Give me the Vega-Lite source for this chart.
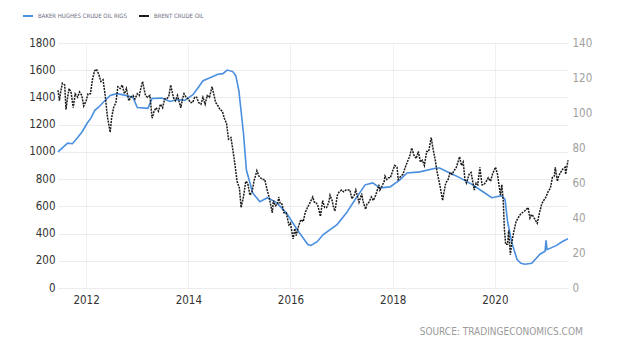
{
  "$schema": "https://vega.github.io/schema/vega-lite/v6.json",
  "width": 510,
  "height": 245,
  "autosize": {"type": "none"},
  "padding": {"left": 58, "top": 43, "right": 52, "bottom": 63},
  "background": "white",
  "title": {
    "text": "SOURCE: TRADINGECONOMICS.COM",
    "orient": "bottom",
    "anchor": "end",
    "dx": -9,
    "offset": 21,
    "font": "DejaVu Sans Condensed",
    "fontSize": 10,
    "fontWeight": "normal",
    "color": "#9a9a9a"
  },
  "config": {
    "view": {"stroke": null},
    "axis": {
      "labelFont": "DejaVu Sans Condensed",
      "labelFontSize": 11.5,
      "domain": false,
      "ticks": false,
      "gridColor": "#ececec",
      "gridWidth": 1,
      "title": null
    },
    "legend": {
      "orient": "none",
      "legendX": -36,
      "legendY": -33,
      "direction": "horizontal",
      "title": null,
      "symbolType": "stroke",
      "symbolSize": 100,
      "symbolStrokeWidth": 2,
      "labelFont": "DejaVu Sans Condensed",
      "labelFontSize": 6,
      "labelColor": "#6b6b80",
      "columnPadding": 8,
      "symbolOffset": 0
    }
  },
  "datasets": {
    "rigs": [
      {"date": "2011-06-14", "value": 1000},
      {"date": "2011-07-15", "value": 1030},
      {"date": "2011-08-22", "value": 1064},
      {"date": "2011-09-25", "value": 1060},
      {"date": "2011-11-03", "value": 1108},
      {"date": "2011-12-05", "value": 1150},
      {"date": "2012-01-08", "value": 1210},
      {"date": "2012-02-05", "value": 1250},
      {"date": "2012-03-03", "value": 1305},
      {"date": "2012-04-01", "value": 1330},
      {"date": "2012-05-01", "value": 1363},
      {"date": "2012-06-21", "value": 1414},
      {"date": "2012-08-08", "value": 1428},
      {"date": "2012-10-10", "value": 1415},
      {"date": "2012-12-01", "value": 1400},
      {"date": "2013-01-01", "value": 1326},
      {"date": "2013-03-18", "value": 1320},
      {"date": "2013-04-16", "value": 1392},
      {"date": "2013-06-25", "value": 1395},
      {"date": "2013-08-22", "value": 1370},
      {"date": "2013-10-15", "value": 1385},
      {"date": "2013-12-06", "value": 1378},
      {"date": "2014-02-03", "value": 1420},
      {"date": "2014-03-10", "value": 1470},
      {"date": "2014-04-16", "value": 1523},
      {"date": "2014-06-05", "value": 1545},
      {"date": "2014-07-31", "value": 1570},
      {"date": "2014-09-05", "value": 1575},
      {"date": "2014-10-05", "value": 1601},
      {"date": "2014-11-14", "value": 1590},
      {"date": "2014-12-06", "value": 1560},
      {"date": "2014-12-28", "value": 1450},
      {"date": "2015-01-30", "value": 1137},
      {"date": "2015-02-20", "value": 867},
      {"date": "2015-04-05", "value": 700},
      {"date": "2015-05-27", "value": 634},
      {"date": "2015-07-20", "value": 663},
      {"date": "2015-09-24", "value": 627},
      {"date": "2015-12-01", "value": 554},
      {"date": "2016-02-17", "value": 430},
      {"date": "2016-05-04", "value": 320},
      {"date": "2016-05-27", "value": 313},
      {"date": "2016-07-10", "value": 340},
      {"date": "2016-08-22", "value": 393},
      {"date": "2016-11-29", "value": 466},
      {"date": "2017-02-06", "value": 554},
      {"date": "2017-04-06", "value": 648},
      {"date": "2017-06-18", "value": 758},
      {"date": "2017-08-11", "value": 772},
      {"date": "2017-10-01", "value": 736},
      {"date": "2017-12-13", "value": 743},
      {"date": "2018-02-21", "value": 794},
      {"date": "2018-04-13", "value": 845},
      {"date": "2018-07-13", "value": 853},
      {"date": "2018-11-10", "value": 882},
      {"date": "2018-12-02", "value": 882},
      {"date": "2019-02-14", "value": 845},
      {"date": "2019-04-28", "value": 809},
      {"date": "2019-07-27", "value": 758},
      {"date": "2019-10-08", "value": 707},
      {"date": "2019-12-10", "value": 663},
      {"date": "2020-02-20", "value": 678},
      {"date": "2020-03-14", "value": 649},
      {"date": "2020-04-02", "value": 481},
      {"date": "2020-05-01", "value": 335},
      {"date": "2020-06-07", "value": 211},
      {"date": "2020-07-05", "value": 182},
      {"date": "2020-08-04", "value": 175},
      {"date": "2020-09-21", "value": 182},
      {"date": "2020-11-18", "value": 248},
      {"date": "2020-12-25", "value": 270},
      {"date": "2021-01-01", "value": 350},
      {"date": "2021-01-08", "value": 282},
      {"date": "2021-03-18", "value": 313},
      {"date": "2021-04-25", "value": 340},
      {"date": "2021-06-07", "value": 362}
    ],
    "brent": [
      {"date": "2011-06-14", "value": 113}, {"date": "2011-06-24", "value": 107}, {"date": "2011-07-01", "value": 111}, {"date": "2011-07-15", "value": 117},
      {"date": "2011-08-01", "value": 116}, {"date": "2011-08-10", "value": 102}, {"date": "2011-08-20", "value": 108}, {"date": "2011-09-01", "value": 114},
      {"date": "2011-09-15", "value": 112}, {"date": "2011-10-01", "value": 103}, {"date": "2011-10-15", "value": 111}, {"date": "2011-11-01", "value": 109},
      {"date": "2011-11-15", "value": 112}, {"date": "2011-12-01", "value": 110}, {"date": "2011-12-15", "value": 104}, {"date": "2012-01-01", "value": 107},
      {"date": "2012-01-15", "value": 111}, {"date": "2012-02-01", "value": 111}, {"date": "2012-02-15", "value": 119}, {"date": "2012-03-01", "value": 124},
      {"date": "2012-03-15", "value": 125}, {"date": "2012-04-01", "value": 122}, {"date": "2012-04-15", "value": 118}, {"date": "2012-05-01", "value": 119},
      {"date": "2012-05-15", "value": 111}, {"date": "2012-06-01", "value": 98}, {"date": "2012-06-21", "value": 89}, {"date": "2012-07-01", "value": 97},
      {"date": "2012-07-15", "value": 103}, {"date": "2012-08-01", "value": 106}, {"date": "2012-08-15", "value": 115}, {"date": "2012-09-01", "value": 114},
      {"date": "2012-09-15", "value": 116}, {"date": "2012-10-01", "value": 111}, {"date": "2012-10-15", "value": 114}, {"date": "2012-11-01", "value": 107},
      {"date": "2012-11-15", "value": 109}, {"date": "2012-12-01", "value": 110}, {"date": "2012-12-15", "value": 108}, {"date": "2013-01-01", "value": 111},
      {"date": "2013-01-15", "value": 110}, {"date": "2013-02-01", "value": 116}, {"date": "2013-02-08", "value": 118}, {"date": "2013-02-20", "value": 113},
      {"date": "2013-03-01", "value": 110}, {"date": "2013-03-15", "value": 109}, {"date": "2013-04-01", "value": 110}, {"date": "2013-04-17", "value": 97},
      {"date": "2013-05-01", "value": 101}, {"date": "2013-05-15", "value": 103}, {"date": "2013-06-01", "value": 101}, {"date": "2013-06-15", "value": 105},
      {"date": "2013-07-01", "value": 103}, {"date": "2013-07-15", "value": 108}, {"date": "2013-08-01", "value": 108}, {"date": "2013-08-15", "value": 110},
      {"date": "2013-08-28", "value": 116}, {"date": "2013-09-10", "value": 111}, {"date": "2013-09-20", "value": 108}, {"date": "2013-10-01", "value": 107},
      {"date": "2013-10-15", "value": 110}, {"date": "2013-11-01", "value": 105}, {"date": "2013-11-08", "value": 103}, {"date": "2013-11-20", "value": 108},
      {"date": "2013-12-01", "value": 111}, {"date": "2013-12-15", "value": 109}, {"date": "2014-01-01", "value": 108}, {"date": "2014-01-15", "value": 106},
      {"date": "2014-02-01", "value": 106}, {"date": "2014-02-15", "value": 109}, {"date": "2014-03-01", "value": 109}, {"date": "2014-03-15", "value": 106},
      {"date": "2014-04-01", "value": 105}, {"date": "2014-04-15", "value": 109}, {"date": "2014-05-01", "value": 105}, {"date": "2014-05-15", "value": 110},
      {"date": "2014-06-01", "value": 109}, {"date": "2014-06-19", "value": 115}, {"date": "2014-07-01", "value": 111}, {"date": "2014-07-15", "value": 106},
      {"date": "2014-08-01", "value": 104}, {"date": "2014-08-15", "value": 102}, {"date": "2014-09-01", "value": 101}, {"date": "2014-09-15", "value": 97},
      {"date": "2014-10-01", "value": 94}, {"date": "2014-10-15", "value": 85}, {"date": "2014-11-01", "value": 86}, {"date": "2014-11-15", "value": 79},
      {"date": "2014-12-01", "value": 70}, {"date": "2014-12-15", "value": 61}, {"date": "2015-01-01", "value": 57}, {"date": "2015-01-13", "value": 46},
      {"date": "2015-02-01", "value": 53}, {"date": "2015-02-15", "value": 61}, {"date": "2015-03-01", "value": 60}, {"date": "2015-03-17", "value": 53},
      {"date": "2015-04-01", "value": 55}, {"date": "2015-04-15", "value": 61}, {"date": "2015-05-06", "value": 67}, {"date": "2015-05-20", "value": 64},
      {"date": "2015-06-01", "value": 63}, {"date": "2015-06-15", "value": 62}, {"date": "2015-07-01", "value": 62}, {"date": "2015-07-15", "value": 57},
      {"date": "2015-08-01", "value": 52}, {"date": "2015-08-24", "value": 43}, {"date": "2015-09-01", "value": 50}, {"date": "2015-09-15", "value": 47},
      {"date": "2015-10-01", "value": 48}, {"date": "2015-10-09", "value": 52}, {"date": "2015-10-20", "value": 48}, {"date": "2015-11-01", "value": 48},
      {"date": "2015-11-15", "value": 43}, {"date": "2015-12-01", "value": 43}, {"date": "2015-12-21", "value": 36}, {"date": "2016-01-01", "value": 37},
      {"date": "2016-01-20", "value": 28}, {"date": "2016-02-01", "value": 34}, {"date": "2016-02-11", "value": 30}, {"date": "2016-03-01", "value": 36},
      {"date": "2016-03-15", "value": 39}, {"date": "2016-04-01", "value": 38}, {"date": "2016-04-15", "value": 43}, {"date": "2016-05-01", "value": 46},
      {"date": "2016-05-15", "value": 48}, {"date": "2016-06-08", "value": 52}, {"date": "2016-06-20", "value": 49}, {"date": "2016-07-01", "value": 49},
      {"date": "2016-07-15", "value": 47}, {"date": "2016-08-02", "value": 41}, {"date": "2016-08-18", "value": 50}, {"date": "2016-09-01", "value": 46},
      {"date": "2016-09-15", "value": 46}, {"date": "2016-10-01", "value": 49}, {"date": "2016-10-10", "value": 53}, {"date": "2016-10-25", "value": 50},
      {"date": "2016-11-01", "value": 47}, {"date": "2016-11-14", "value": 44}, {"date": "2016-12-01", "value": 53}, {"date": "2016-12-15", "value": 55},
      {"date": "2017-01-01", "value": 56}, {"date": "2017-01-15", "value": 55}, {"date": "2017-02-01", "value": 56}, {"date": "2017-02-15", "value": 56},
      {"date": "2017-03-01", "value": 56}, {"date": "2017-03-15", "value": 51}, {"date": "2017-04-01", "value": 53}, {"date": "2017-04-12", "value": 56},
      {"date": "2017-05-05", "value": 49}, {"date": "2017-05-25", "value": 54}, {"date": "2017-06-01", "value": 50}, {"date": "2017-06-21", "value": 45},
      {"date": "2017-07-01", "value": 48}, {"date": "2017-07-15", "value": 49}, {"date": "2017-08-01", "value": 52}, {"date": "2017-08-15", "value": 50},
      {"date": "2017-09-01", "value": 53}, {"date": "2017-09-25", "value": 59}, {"date": "2017-10-01", "value": 56}, {"date": "2017-10-15", "value": 58},
      {"date": "2017-11-01", "value": 61}, {"date": "2017-11-07", "value": 64}, {"date": "2017-11-20", "value": 62}, {"date": "2017-12-01", "value": 63},
      {"date": "2017-12-15", "value": 63}, {"date": "2018-01-01", "value": 67}, {"date": "2018-01-15", "value": 70}, {"date": "2018-02-01", "value": 69},
      {"date": "2018-02-09", "value": 62}, {"date": "2018-03-01", "value": 64}, {"date": "2018-03-15", "value": 65}, {"date": "2018-04-01", "value": 69},
      {"date": "2018-04-15", "value": 72}, {"date": "2018-05-01", "value": 75}, {"date": "2018-05-17", "value": 80}, {"date": "2018-06-01", "value": 76},
      {"date": "2018-06-18", "value": 74}, {"date": "2018-07-03", "value": 78}, {"date": "2018-07-18", "value": 72}, {"date": "2018-08-01", "value": 73},
      {"date": "2018-08-15", "value": 70}, {"date": "2018-09-01", "value": 78}, {"date": "2018-09-15", "value": 78}, {"date": "2018-10-03", "value": 86},
      {"date": "2018-10-15", "value": 80}, {"date": "2018-11-01", "value": 73}, {"date": "2018-11-15", "value": 66}, {"date": "2018-12-01", "value": 60},
      {"date": "2018-12-24", "value": 50}, {"date": "2019-01-01", "value": 54}, {"date": "2019-01-15", "value": 60}, {"date": "2019-02-01", "value": 62},
      {"date": "2019-02-15", "value": 66}, {"date": "2019-03-01", "value": 65}, {"date": "2019-03-15", "value": 67}, {"date": "2019-04-01", "value": 69},
      {"date": "2019-04-24", "value": 75}, {"date": "2019-05-07", "value": 70}, {"date": "2019-05-20", "value": 72}, {"date": "2019-06-01", "value": 62},
      {"date": "2019-06-12", "value": 60}, {"date": "2019-07-01", "value": 65}, {"date": "2019-07-15", "value": 66}, {"date": "2019-08-07", "value": 56},
      {"date": "2019-08-20", "value": 60}, {"date": "2019-09-01", "value": 59}, {"date": "2019-09-16", "value": 69}, {"date": "2019-10-01", "value": 59},
      {"date": "2019-10-15", "value": 59}, {"date": "2019-11-01", "value": 61}, {"date": "2019-11-15", "value": 63}, {"date": "2019-12-01", "value": 61},
      {"date": "2019-12-15", "value": 65}, {"date": "2020-01-06", "value": 69}, {"date": "2020-01-20", "value": 65}, {"date": "2020-02-01", "value": 58},
      {"date": "2020-02-10", "value": 53}, {"date": "2020-02-20", "value": 59}, {"date": "2020-03-01", "value": 50}, {"date": "2020-03-09", "value": 34},
      {"date": "2020-03-18", "value": 25}, {"date": "2020-04-01", "value": 25}, {"date": "2020-04-09", "value": 33}, {"date": "2020-04-21", "value": 19},
      {"date": "2020-05-01", "value": 26}, {"date": "2020-05-15", "value": 32}, {"date": "2020-06-01", "value": 38}, {"date": "2020-06-15", "value": 40},
      {"date": "2020-07-01", "value": 42}, {"date": "2020-07-15", "value": 43}, {"date": "2020-08-01", "value": 44}, {"date": "2020-08-26", "value": 46},
      {"date": "2020-09-08", "value": 40}, {"date": "2020-09-20", "value": 42}, {"date": "2020-10-01", "value": 41}, {"date": "2020-10-30", "value": 37},
      {"date": "2020-11-15", "value": 43}, {"date": "2020-12-01", "value": 48}, {"date": "2020-12-15", "value": 50}, {"date": "2021-01-01", "value": 52},
      {"date": "2021-01-15", "value": 55}, {"date": "2021-02-01", "value": 57}, {"date": "2021-02-15", "value": 63}, {"date": "2021-03-01", "value": 64},
      {"date": "2021-03-08", "value": 69}, {"date": "2021-03-23", "value": 61}, {"date": "2021-04-01", "value": 64}, {"date": "2021-04-15", "value": 66},
      {"date": "2021-05-01", "value": 68}, {"date": "2021-05-18", "value": 69}, {"date": "2021-05-21", "value": 65}, {"date": "2021-06-01", "value": 70},
      {"date": "2021-06-07", "value": 73}
    ]
  },
  "layer": [
    {
      "data": {"name": "rigs"},
      "mark": {"type": "line", "strokeWidth": 1.6},
      "encoding": {
        "x": {
          "field": "date",
          "type": "temporal",
          "scale": {"domain": ["2011-06-14", "2021-06-07"]},
          "axis": {
            "format": "%Y",
            "tickCount": {"interval": "year", "step": 2},
            "labelColor": "#333333",
            "labelPadding": 6,
            "gridColor": "#f0f0f0"
          }
        },
        "y": {
          "field": "value",
          "type": "quantitative",
          "scale": {"domain": [0, 1800], "nice": false},
          "axis": {"orient": "left", "format": "d", "values": [0, 200, 400, 600, 800, 1000, 1200, 1400, 1600, 1800], "labelColor": "#333333", "labelPadding": 3}
        },
        "color": {
          "datum": "BAKER HUGHES CRUDE OIL RIGS",
          "type": "nominal",
          "scale": {"domain": ["BAKER HUGHES CRUDE OIL RIGS", "BRENT CRUDE OIL"], "range": ["#4a8fe0", "#1a1a1a"]}
        }
      }
    },
    {
      "data": {"name": "brent"},
      "mark": {"type": "line", "strokeWidth": 1.5, "strokeDash": [2, 1]},
      "encoding": {
        "x": {"field": "date", "type": "temporal"},
        "y": {
          "field": "value",
          "type": "quantitative",
          "scale": {"domain": [0, 140], "nice": false},
          "axis": {"orient": "right", "format": "d", "values": [0, 20, 40, 60, 80, 100, 120, 140], "labelColor": "#a0a0a0", "labelPadding": 4, "gridColor": "#f0f0f0"}
        },
        "color": {"datum": "BRENT CRUDE OIL", "type": "nominal"}
      }
    }
  ],
  "resolve": {"scale": {"y": "independent"}}
}
